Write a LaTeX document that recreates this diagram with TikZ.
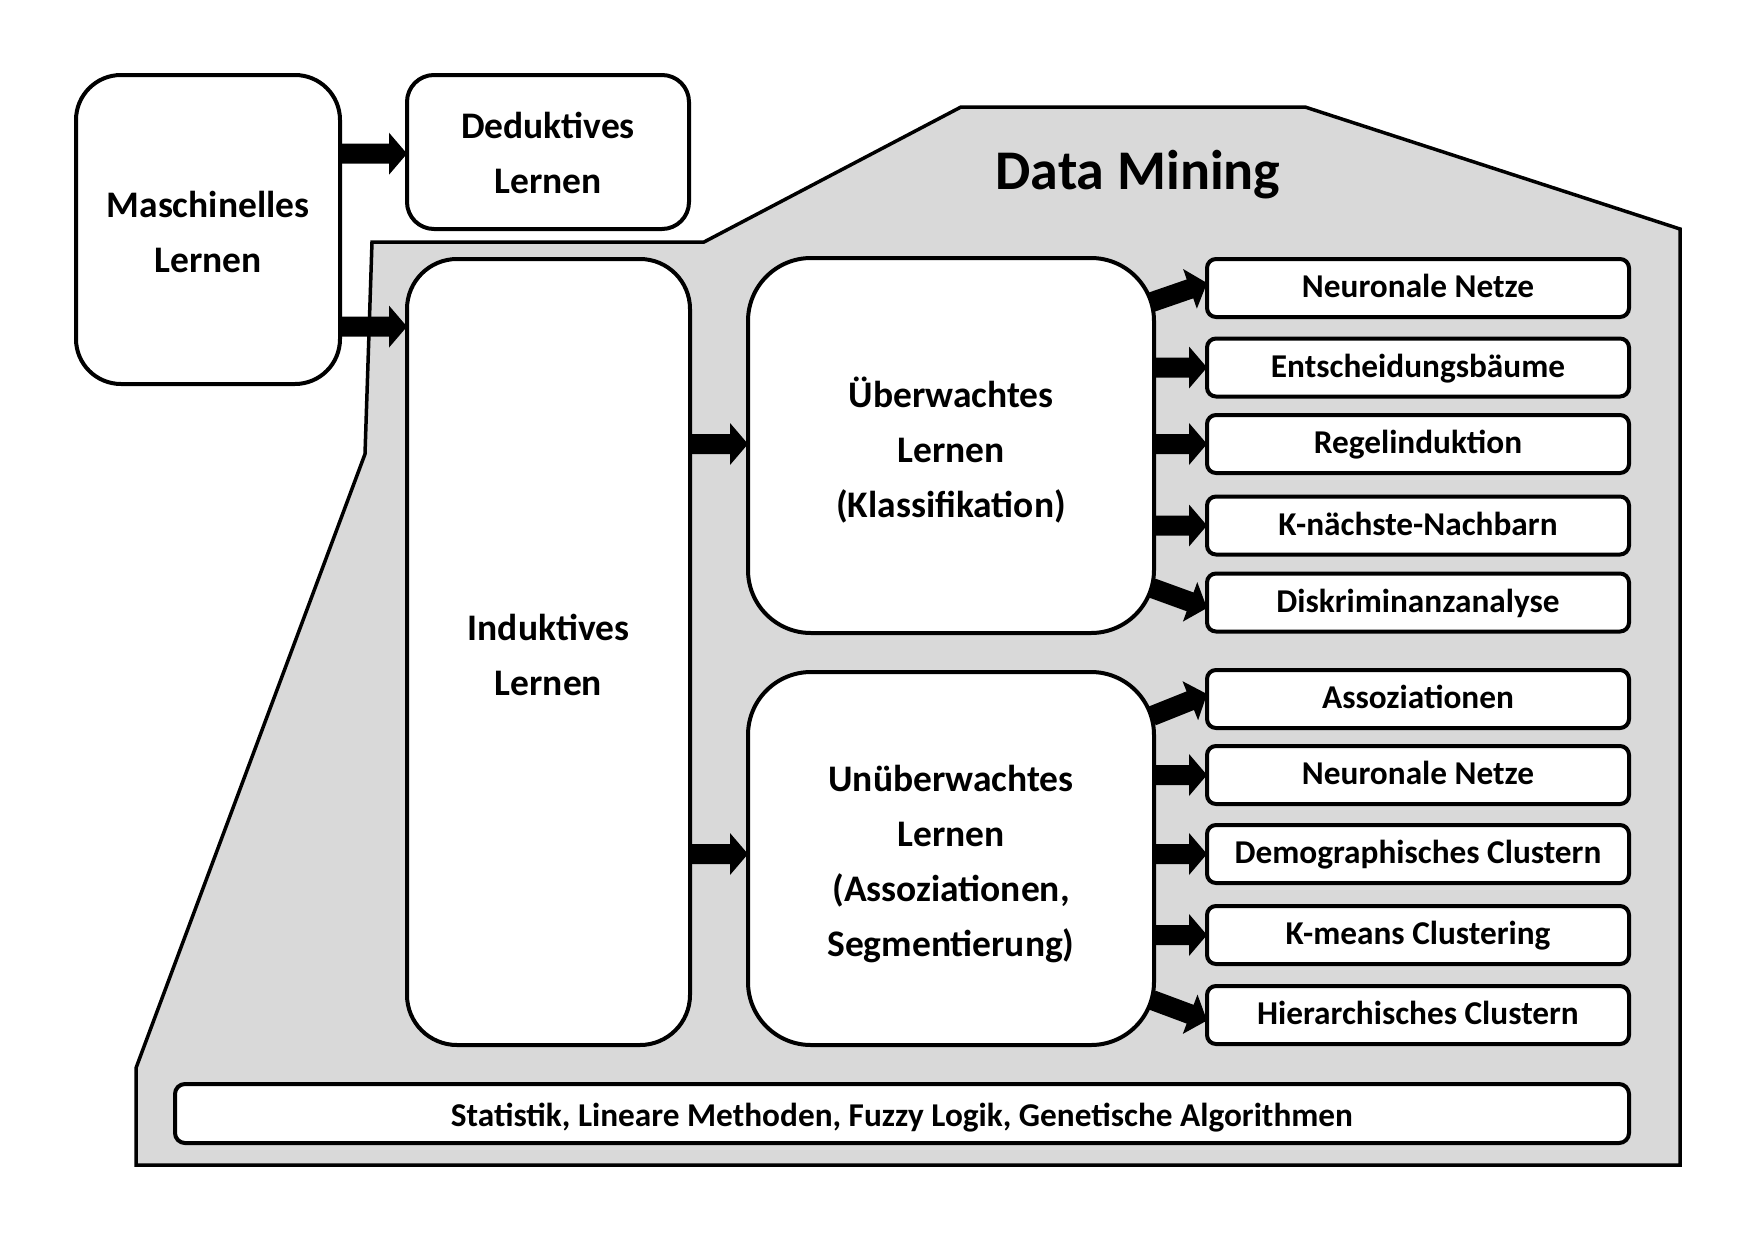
\documentclass[tikz,border=0pt]{standalone}
\usepackage{fontspec}
\setmainfont{Carlito}
\usetikzlibrary{calc}
\definecolor{dmgray}{RGB}{217,217,217}
\newcommand\fatarrow[2]{%
  \coordinate (fac) at ($(#2)!18pt!(#1)$);
  \fill[black] ($(#1)!10pt!90:(#2)$) -- ($(fac)!10pt!90:(#2)$) -- ($(fac)!21pt!90:(#2)$) -- (#2)
     -- ($(fac)!21pt!-90:(#2)$) -- ($(fac)!10pt!-90:(#2)$) -- ($(#1)!10pt!-90:(#2)$) -- cycle;}
\tikzset{
  bigbox/.style={draw, line width=4pt, fill=white, inner sep=0pt, outer sep=0pt},
  biglabel/.style={inner sep=0pt, align=center, font=\bfseries\fontsize{37.5}{55}\selectfont},
  itembox/.style={draw, line width=4pt, fill=white, inner sep=0pt, outer sep=0pt,
    minimum width=422pt, minimum height=58pt, rounded corners=9pt,
    font=\bfseries\fontsize{33.3}{33.3}\selectfont, text height=24pt, text depth=5pt},
  dmarea/.style={draw, line width=3.5pt, fill=dmgray, line join=miter},
}
\begin{document}
\begin{tikzpicture}[x=1pt,y=-1pt]
\useasboundingbox (0,0) rectangle (1754,1240);
% Data Mining area
\draw[dmarea] (372,242) -- (704,242) -- (961,107) -- (1305,107) -- (1680,229) -- (1680,1165)
  -- (136,1165) -- (136,1068) -- (365,454) -- cycle;
\node[font=\bfseries\fontsize{56}{56}\selectfont, anchor=base] (dmtitle) at (1138,189) {Data Mining};
% main boxes
\node[bigbox, minimum width=264pt, minimum height=309pt, rounded corners=45pt] (masch) at (208,229.5) {};
\node[bigbox, minimum width=282pt, minimum height=154pt, rounded corners=27pt] (deduk) at (548,152) {};
\node[bigbox, minimum width=283pt, minimum height=786pt, rounded corners=50pt] (induk) at (548.5,652) {};
\node[bigbox, minimum width=406pt, minimum height=375pt, rounded corners=63pt] (ueb) at (951,445.5) {};
\node[bigbox, minimum width=406pt, minimum height=373pt, rounded corners=63pt] (unueb) at (951,858.5) {};
\node[biglabel] (maschtext) at ($(masch.center)+(0,2.5)$) {Maschinelles\\Lernen};
\node[biglabel] (deduktext) at ($(deduk.center)+(0,1)$) {Deduktives\\Lernen};
\node[biglabel] (induktext) at ($(induk.center)+(0,2.5)$) {Induktives\\Lernen};
\node[biglabel] (uebtext) at ($(ueb.center)+(0,4.5)$) {Überwachtes\\Lernen\\(Klassifikation)};
\node[biglabel] (unuebtext) at ($(unueb.center)+(0,5.5)$) {Unüberwachtes\\Lernen\\(Assoziationen,\\Segmentierung)};
% item boxes
\node[itembox] (r1) at (1418,288) {Neuronale Netze};
\node[itembox] (r2) at (1418,367.5) {Entscheidungsbäume};
\node[itembox] (r3) at (1418,444) {Regelinduktion};
\node[itembox] (r4) at (1418,525.5) {K-nächste-Nachbarn};
\node[itembox] (r5) at (1418,602.5) {Diskriminanzanalyse};
\node[itembox] (a1) at (1418,699) {Assoziationen};
\node[itembox] (a2) at (1418,775) {Neuronale Netze};
\node[itembox] (a3) at (1418,854) {Demographisches Clustern};
\node[itembox] (a4) at (1418,935) {K-means Clustering};
\node[itembox] (a5) at (1418,1015) {Hierarchisches Clustern};
\node[itembox, minimum width=1454pt, minimum height=59pt, rounded corners=10pt, text height=27pt, text depth=2pt] (base) at (902,1113.5) {Statistik, Lineare Methoden, Fuzzy Logik, Genetische Algorithmen};
% arrows
\coordinate (m1) at ($(masch.north east)+(0,78.7)$);
\coordinate (m2) at ($(masch.north east)+(0,251.6)$);
\fatarrow{m1}{deduk.west |- m1}
\fatarrow{m2}{induk.west |- m2}
\coordinate (i1) at ($(induk.north east)+(0,185)$);
\coordinate (i2) at ($(induk.north east)+(0,595)$);
\fatarrow{i1}{ueb.west |- i1}
\fatarrow{i2}{unueb.west |- i2}
% supervised
\coordinate (u1) at ($(ueb.north east)+(-2,44)$);
\coordinate (u1t) at ($(r1.west)+(0,-5)$);
\fatarrow{u1}{u1t}
\coordinate (u2) at (ueb.east |- r2.west);
\fatarrow{u2}{r2.west}
\coordinate (u3) at (ueb.east |- r3.west);
\fatarrow{u3}{r3.west}
\coordinate (u4) at (ueb.east |- r4.west);
\fatarrow{u4}{r4.west}
\coordinate (u5) at ($(ueb.south east)+(-2,-45)$);
\coordinate (u5t) at ($(r5.west)+(0,5.5)$);
\fatarrow{u5}{u5t}
% unsupervised
\coordinate (v1) at ($(unueb.north east)+(-2,44)$);
\coordinate (v1t) at ($(a1.west)+(0,-5)$);
\fatarrow{v1}{v1t}
\coordinate (v2) at (unueb.east |- a2.west);
\fatarrow{v2}{a2.west}
\coordinate (v3) at (unueb.east |- a3.west);
\fatarrow{v3}{a3.west}
\coordinate (v4) at (unueb.east |- a4.west);
\fatarrow{v4}{a4.west}
\coordinate (v5) at ($(unueb.south east)+(-2,-45)$);
\coordinate (v5t) at ($(a5.west)+(0,5.5)$);
\fatarrow{v5}{v5t}
\end{tikzpicture}
\end{document}
